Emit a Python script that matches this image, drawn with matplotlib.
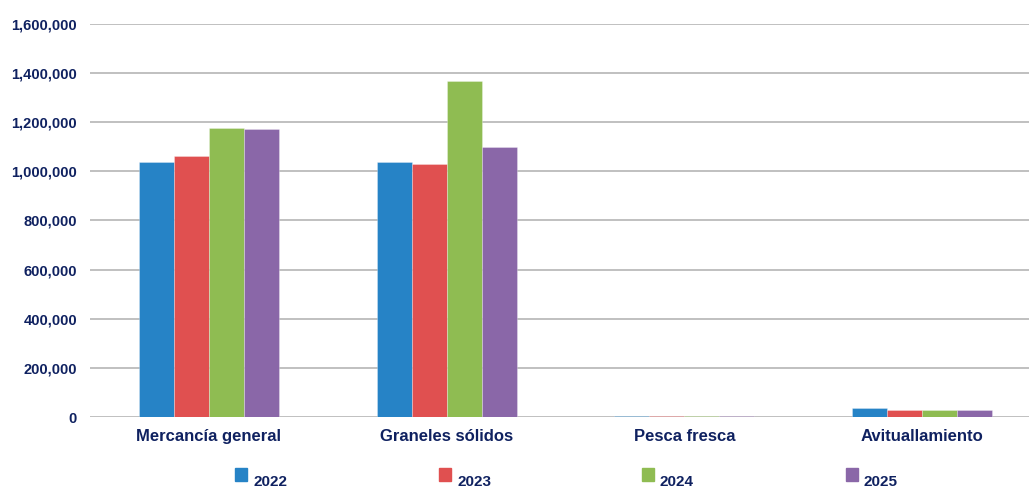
import matplotlib
matplotlib.use("Agg")
import matplotlib.pyplot as plt
from matplotlib.patches import Rectangle
from matplotlib.ticker import FuncFormatter
import numpy as np

categories = ["Mercancía general", "Graneles sólidos", "Pesca fresca", "Avituallamiento"]
years = ["2022", "2023", "2024", "2025"]
values_2022 = [1038000, 1039000, 4000, 38000]
values_2023 = [1062000, 1030000, 4000, 28500]
values_2024 = [1175000, 1369000, 3500, 28000]
values_2025 = [1174000, 1099000, 3500, 27000]
series = [values_2022, values_2023, values_2024, values_2025]
colors = ["#2683c6", "#e05050", "#8fbc52", "#8a67a8"]

text_color = "#0f2160"
plt.rcParams["font.family"] = ["Liberation Sans", "DejaVu Sans"]
plt.rcParams["font.weight"] = "bold"

W, H = 1029, 490
fig = plt.figure(figsize=(W / 100, H / 100), dpi=100)
ax = fig.add_axes([90 / W, (H - 417) / H, 951 / W, 393 / H])

x = np.arange(len(categories))
bw = 0.147
for i, (vals, col) in enumerate(zip(series, colors)):
    ax.bar(x + (i - 1.5) * bw, vals, width=bw, color=col,
           edgecolor=(1, 1, 1, 0.5), linewidth=0.4, zorder=3)

ax.set_xlim(-0.5, 3.5)
ax.set_ylim(0, 1600000)
ax.set_yticks(np.arange(0, 1600001, 200000))
ax.yaxis.set_major_formatter(FuncFormatter(lambda v, p: f"{int(v):,}"))
ax.set_xticks(x)
ax.set_xticklabels(categories)
ax.grid(axis="y", color="#b5b5b5", linewidth=1.2, zorder=0)
ax.set_axisbelow(True)
for s in ax.spines.values():
    s.set_visible(False)
ax.tick_params(axis="y", length=0, pad=9.4, labelsize=10.5, labelcolor=text_color)
ax.tick_params(axis="x", length=0, pad=8.5, labelsize=12, labelcolor=text_color)
for lab in ax.get_xticklabels() + ax.get_yticklabels():
    lab.set_fontweight("bold")

# legend row along the bottom edge
handle_x = [235, 439, 642, 846]
for hx, col, yr in zip(handle_x, colors, years):
    fig.patches.append(Rectangle((hx / W, (H - 481) / H), 12 / W, 13 / H,
                                 transform=fig.transFigure, color=col))
    fig.text((hx + 18) / W, (H - 486) / H, yr, fontsize=11, fontweight="bold",
             color=text_color, va="baseline", ha="left")

fig.savefig("out.png", dpi=100)
